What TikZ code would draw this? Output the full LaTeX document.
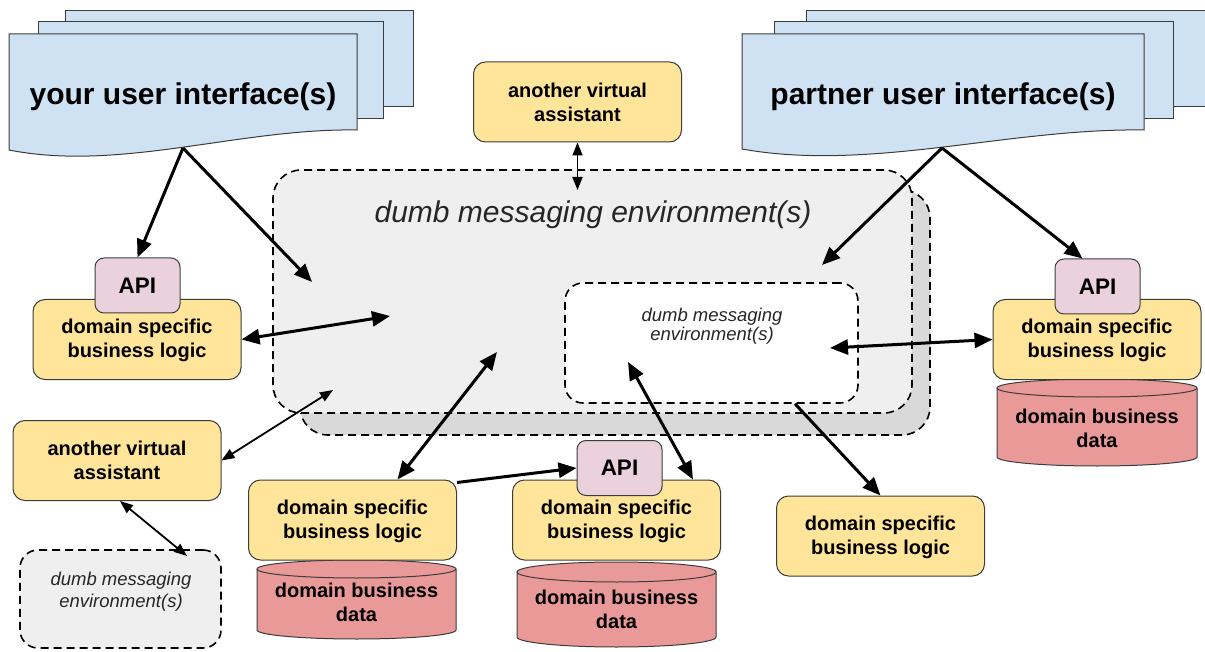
\documentclass[tikz,border=0pt]{standalone}
\usepackage{fontspec}
\setmainfont{Liberation Sans}
\usetikzlibrary{arrows.meta}

\definecolor{uifill}{HTML}{CFE2F3}
\definecolor{logicfill}{HTML}{FFE599}
\definecolor{apifill}{HTML}{EAD1DC}
\definecolor{dbfill}{HTML}{EA9999}
\definecolor{envfront}{HTML}{EFEFEF}
\definecolor{envback}{HTML}{D9D9D9}
\definecolor{edge}{HTML}{3C3C3C}

\tikzset{
  uidoc/.style={draw=edge, fill=uifill, line width=1pt},
  uitext/.style={font=\fontsize{30}{34}\selectfont\bfseries},
  box/.style={draw=edge, line width=1pt, rounded corners=12pt, align=center,
    font=\fontsize{20}{24}\selectfont\bfseries},
  vabox/.style={box, fill=logicfill, minimum width=208pt, minimum height=80pt},
  logic/.style={vabox, text depth=1.5pt},
  apibox/.style={box, fill=apifill, rounded corners=9pt, minimum width=85pt,
    minimum height=55pt, font=\fontsize{22.5}{26}\selectfont\bfseries},
  dbcyl/.style={draw=edge, fill=dbfill, line width=1pt},
  dbtext/.style={align=center, font=\fontsize{20}{24}\selectfont\bfseries},
  envshape/.style={draw=black, line width=1.6pt, dash pattern=on 8pt off 5pt,
    rounded corners=28pt},
  envtext/.style={align=center, text=black!85,
    font=\fontsize{18.5}{18.5}\selectfont\itshape},
  bigflow/.style={line width=3pt, -{Triangle[length=18pt,width=15pt]}},
  bigboth/.style={line width=3pt,
    {Triangle[length=18pt,width=15pt]}-{Triangle[length=18pt,width=15pt]}},
  thinboth/.style={line width=1.8pt,
    {Triangle[length=13pt,width=10pt]}-{Triangle[length=13pt,width=10pt]}},
}

\begin{document}
\begin{tikzpicture}[x=1pt, y=-1pt]
\useasboundingbox (0,0) rectangle (1205,652);
\clip (0,0) rectangle (1205,652);

% ---- your user interface(s): stacked documents
\draw[uidoc] (65,11) rectangle (413,107);
\draw[uidoc] (38,22) rectangle (383,119);
\draw[uidoc] (9,34) -- (357,34) -- (357,130)
  .. controls (240,128) and (120,172) .. (9,150) -- cycle;
\coordinate (uilfoot) at (183,148);
\node[uitext] (uil) at (183,97) {your user interface(s)};

% ---- partner user interface(s): stacked documents
\draw[uidoc] (806,11) rectangle (1215,107);
\draw[uidoc] (774,22) rectangle (1173,119);
\draw[uidoc] (742,34) -- (1144,34) -- (1144,130)
  .. controls (1009,128) and (870,172) .. (742,149) -- cycle;
\coordinate (uirfoot) at (942,148);
\node[uitext] (uir) at (943,97) {partner user interface(s)};

% ---- central messaging environments
\node[envshape, fill=envback, minimum width=630pt, minimum height=245pt]
  (envback) at (615,312.5) {};
\node[envshape, fill=envfront, minimum width=639pt, minimum height=243pt]
  (env) at (592.5,291.5) {};
\node[envtext, font=\fontsize{30}{34}\selectfont\itshape]
  (envtitle) at (593,215) {dumb messaging environment(s)};
\node[envshape, fill=white, rounded corners=18pt, minimum width=293pt,
  minimum height=120pt] (inner) at (711.5,343) {};
\node[envtext] (innertext) at (712,326) {dumb messaging\\environment(s)};

% ---- assistant above the environment
\node[vabox] (topva) at (577.5,102) {another virtual\\assistant};

% ---- left column
\node[logic] (leftlogic) at (137,339.5) {domain specific\\business logic};
\node[apibox] (leftapi) at (137.5,285.5) {API};
\node[vabox] (leftva) at (117,460.5) {another virtual\\assistant};
\node[envshape, fill=envfront, rounded corners=18pt, minimum width=201pt,
  minimum height=98pt] (smallenv) at (120.5,599) {};
\node[envtext, font=\fontsize{18.5}{22}\selectfont\itshape]
  (smalltext) at (121,592) {dumb messaging\\environment(s)};

% ---- data stores
\draw[dbcyl] (257,569) -- (257,630)
  arc[start angle=180, end angle=0, x radius=99.5, y radius=9] -- (456,569)
  arc[start angle=0, end angle=-180, x radius=99.5, y radius=9] -- cycle;
\draw[dbcyl, fill=none] (257,569)
  arc[start angle=180, end angle=0, x radius=99.5, y radius=9];
\node[dbtext] (db1) at (356.5,602) {domain business\\data};

\draw[dbcyl] (517,572) -- (517,637)
  arc[start angle=180, end angle=0, x radius=99.5, y radius=10] -- (716,572)
  arc[start angle=0, end angle=-180, x radius=99.5, y radius=10] -- cycle;
\draw[dbcyl, fill=none] (517,572)
  arc[start angle=180, end angle=0, x radius=99.5, y radius=10];
\node[dbtext] (db2) at (616.5,609) {domain business\\data};

\draw[dbcyl] (997,388) -- (997,457)
  arc[start angle=180, end angle=0, x radius=100, y radius=9] -- (1197,388)
  arc[start angle=0, end angle=-180, x radius=100, y radius=9] -- cycle;
\draw[dbcyl, fill=none] (997,388)
  arc[start angle=180, end angle=0, x radius=100, y radius=9];
\node[dbtext] (db3) at (1097,428.5) {domain business\\data};

% ---- business logic boxes
\node[logic] (logic1) at (352.5,520) {domain specific\\business logic};
\node[logic] (logic2) at (616.5,520) {domain specific\\business logic};
\node[apibox] (api2) at (619.5,468) {API};
\node[logic] (logic3) at (880.5,536) {domain specific\\business logic};
\node[logic] (rightlogic) at (1097,339.5) {domain specific\\business logic};
\node[apibox] (rightapi) at (1097.5,286.5) {API};

% ---- free ends inside the environments
\coordinate (inL) at (312,282);
\coordinate (inR) at (822,265);
\coordinate (inLogic) at (390,316);
\coordinate (inTop) at (577.5,190);
\coordinate (inVA) at (333,390);
\coordinate (smallIn) at (187,556);
\coordinate (inLow) at (497,352);
\coordinate (innerLow) at (628,362);
\coordinate (innerFoot) at ([xshift=83.5pt]inner.south);
\coordinate (innerRight) at (830,348);

% ---- connectors
\draw[bigflow] (uilfoot) -- (leftapi.north);
\draw[bigflow] (uilfoot) -- (inL);
\draw[bigflow] (uirfoot) -- (inR);
\draw[bigflow] (uirfoot) -- ([xshift=-15pt]rightapi.north);
\draw[bigboth] (leftlogic.east) -- (inLogic);
\draw[thinboth] (topva.south) -- (inTop);
\draw[thinboth] (leftva.east) -- (inVA);
\draw[thinboth] ([xshift=3pt]leftva.south) -- (smallIn);
\draw[bigboth] (inLow) -- ([xshift=45pt]logic1.north);
\draw[bigflow] ([yshift=-3pt]logic1.north east) -- (api2.west);
\draw[bigboth] (innerLow) -- ([xshift=-28pt]logic2.north east);
\draw[bigflow] (innerFoot) -- (logic3.north);
\draw[bigboth] (innerRight) -- (rightlogic.west);
\end{tikzpicture}
\end{document}
